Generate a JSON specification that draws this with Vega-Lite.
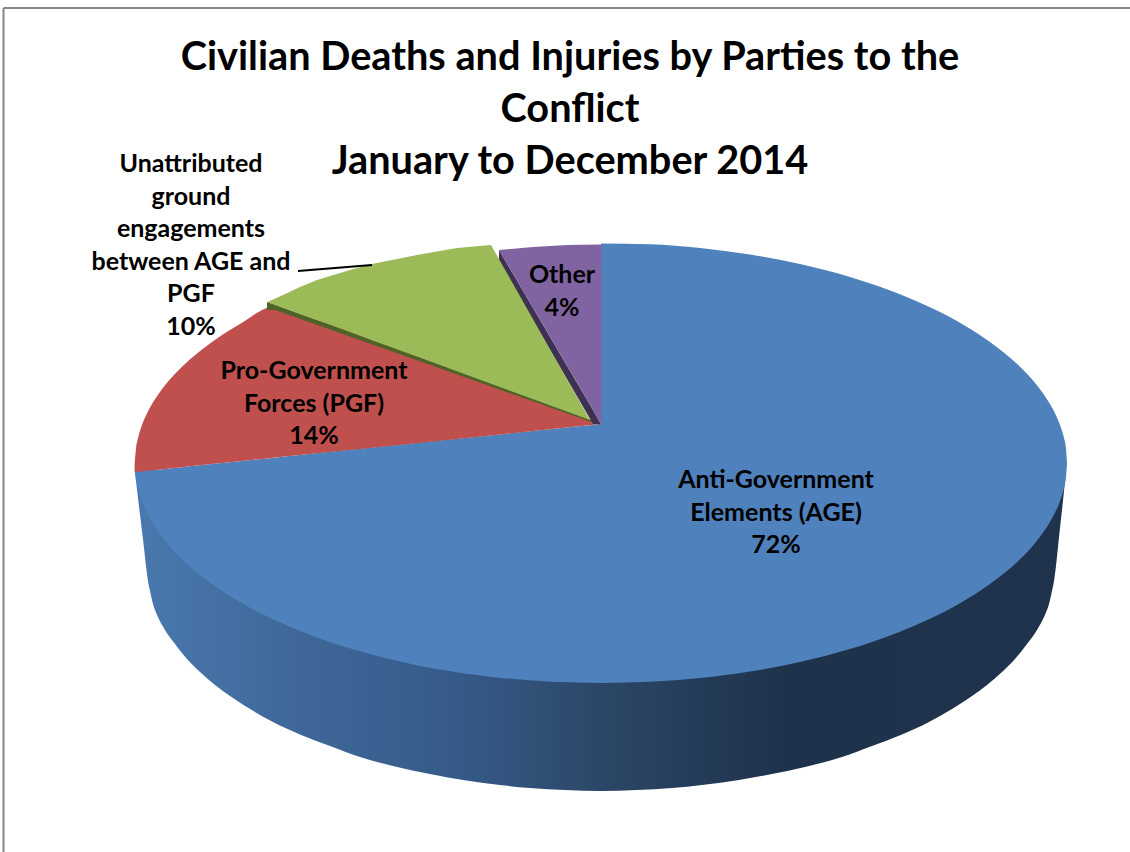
{
"$schema":"https://vega.github.io/schema/vega-lite/v6.json",
"width":1130,"height":852,"padding":0,"autosize":{"type":"none"},"background":"white",
"config":{"view":{"stroke":null}},
"title":{"text":["Civilian Deaths and Injuries by Parties to the","Conflict","January to December 2014"],"font":"Lato","fontWeight":"bold","fontSize":39.7,"lineHeight":52,"color":"#000000","anchor":"middle","frame":"group","orient":"top","offset":0,"baseline":"alphabetic","dx":5,"dy":214},
"datasets":{
"frame":[{"x":3.5,"y":8,"x2":3.5,"y2":852},{"x":3.5,"y":8,"x2":1130,"y2":8}],
"side":[{"x":135,"y":470,"y2":473},{"x":138,"y":470,"y2":498},{"x":141,"y":470,"y2":523},{"x":144,"y":470,"y2":548},{"x":146,"y":470,"y2":566},{"x":148,"y":470,"y2":581},{"x":150,"y":470,"y2":591},{"x":153,"y":470,"y2":604},{"x":158,"y":470,"y2":617},{"x":165,"y":470,"y2":630},{"x":175,"y":470,"y2":644},{"x":187,"y":470,"y2":659},{"x":200,"y":470,"y2":672},{"x":215,"y":470,"y2":685},{"x":230,"y":470,"y2":696},{"x":250,"y":470,"y2":709},{"x":273,"y":470,"y2":722},{"x":300,"y":470,"y2":734.5},{"x":330,"y":470,"y2":746},{"x":360,"y":470,"y2":757},{"x":397,"y":470,"y2":767},{"x":430,"y":470,"y2":774},{"x":463,"y":470,"y2":780},{"x":500,"y":470,"y2":785},{"x":530,"y":470,"y2":788},{"x":565,"y":470,"y2":790},{"x":601,"y":470,"y2":791},{"x":637,"y":470,"y2":790},{"x":672,"y":470,"y2":788},{"x":702,"y":470,"y2":785},{"x":739,"y":470,"y2":780},{"x":772,"y":470,"y2":774},{"x":805,"y":470,"y2":767},{"x":842,"y":470,"y2":757},{"x":872,"y":470,"y2":746},{"x":902,"y":470,"y2":734.5},{"x":929,"y":470,"y2":722},{"x":952,"y":470,"y2":709},{"x":972,"y":470,"y2":696},{"x":987,"y":470,"y2":685},{"x":1002,"y":470,"y2":672},{"x":1015,"y":470,"y2":659},{"x":1027,"y":470,"y2":644},{"x":1037,"y":470,"y2":630},{"x":1044,"y":470,"y2":617},{"x":1049,"y":470,"y2":604},{"x":1052,"y":470,"y2":591},{"x":1054,"y":470,"y2":581},{"x":1056,"y":470,"y2":566},{"x":1058,"y":470,"y2":547},{"x":1060,"y":470,"y2":528},{"x":1062,"y":470,"y2":510},{"x":1064,"y":470,"y2":491},{"x":1066,"y":470,"y2":472}],
"smooth":[
{"part":"AGE left","x":135,"y":472,"y2":473},{"part":"AGE left","x":136,"y":471.9,"y2":477.3},{"part":"AGE left","x":138,"y":471.7,"y2":487.9},{"part":"AGE left","x":141,"y":471.4,"y2":498.2},{"part":"AGE left","x":146,"y":470.9,"y2":510.5},{"part":"AGE left","x":152,"y":470.2,"y2":521.9},{"part":"AGE left","x":160,"y":469.4,"y2":534.1},{"part":"AGE left","x":170,"y":468.4,"y2":546.7},{"part":"AGE left","x":182,"y":467.2,"y2":559.3},{"part":"AGE left","x":197,"y":465.6,"y2":572.6},{"part":"AGE left","x":217,"y":463.6,"y2":587.6},{"part":"AGE left","x":242,"y":461,"y2":603.3},{"part":"AGE left","x":272,"y":457.9,"y2":618.8},{"part":"AGE left","x":302,"y":454.8,"y2":631.7},{"part":"AGE left","x":352,"y":449.6,"y2":649},{"part":"AGE left","x":402,"y":444.5,"y2":661.9},{"part":"AGE left","x":452,"y":439.3,"y2":671.5},{"part":"AGE left","x":502,"y":434.2,"y2":678},{"part":"AGE left","x":552,"y":429.05,"y2":681.8},{"part":"AGE left","x":602,"y":424,"y2":683},
{"part":"AGE right","x":601,"y":243.5,"y2":683},{"part":"AGE right","x":650,"y":244.2,"y2":681.8},{"part":"AGE right","x":700,"y":248,"y2":678},{"part":"AGE right","x":750,"y":254.5,"y2":671.5},{"part":"AGE right","x":800,"y":264.1,"y2":661.9},{"part":"AGE right","x":850,"y":277,"y2":649},{"part":"AGE right","x":900,"y":294.3,"y2":631.7},{"part":"AGE right","x":930,"y":307.2,"y2":618.8},{"part":"AGE right","x":960,"y":322.7,"y2":603.3},{"part":"AGE right","x":985,"y":338.4,"y2":587.6},{"part":"AGE right","x":1005,"y":353.4,"y2":572.6},{"part":"AGE right","x":1020,"y":366.7,"y2":559.3},{"part":"AGE right","x":1032,"y":379.3,"y2":546.7},{"part":"AGE right","x":1042,"y":391.9,"y2":534.1},{"part":"AGE right","x":1050,"y":404.1,"y2":521.9},{"part":"AGE right","x":1056,"y":415.5,"y2":510.5},{"part":"AGE right","x":1061,"y":427.8,"y2":498.2},{"part":"AGE right","x":1064,"y":438.1,"y2":487.9},{"part":"AGE right","x":1066,"y":448.7,"y2":477.3},{"part":"AGE right","x":1067,"y":463,"y2":464},
{"part":"PGF","x":134.6,"y":464,"y2":472.1},{"part":"PGF","x":136,"y":448.7,"y2":471.9},{"part":"PGF","x":138,"y":438.1,"y2":471.7},{"part":"PGF","x":141,"y":427.8,"y2":471.4},{"part":"PGF","x":146,"y":415.5,"y2":470.9},{"part":"PGF","x":152,"y":404.1,"y2":470.2},{"part":"PGF","x":160,"y":391.9,"y2":469.4},{"part":"PGF","x":170,"y":379.3,"y2":468.4},{"part":"PGF","x":182,"y":366.7,"y2":467.2},{"part":"PGF","x":197,"y":353.4,"y2":465.6},{"part":"PGF","x":217,"y":338.4,"y2":463.6},{"part":"PGF","x":242,"y":322.7,"y2":461},{"part":"PGF","x":272,"y":307.2,"y2":457.9},{"part":"PGF","x":275,"y":308,"y2":457.6},{"part":"PGF","x":601,"y":424,"y2":424.1}
],
"sharp":[
{"part":"Unattributed edge","x":267,"y":302,"y2":310},{"part":"Unattributed edge","x":275,"y":304.7,"y2":310},{"part":"Unattributed edge","x":597,"y":422,"y2":424},
{"part":"Other edge","x":499,"y":250,"y2":262},{"part":"Other edge","x":593,"y":410,"y2":424},{"part":"Other edge","x":601,"y":424,"y2":424.5},
{"part":"Unattributed","x":267.5,"y":302,"y2":302},{"part":"Unattributed","x":283,"y":295,"y2":307.7},{"part":"Unattributed","x":300,"y":287,"y2":313.9},{"part":"Unattributed","x":317,"y":280,"y2":320.1},{"part":"Unattributed","x":350,"y":270,"y2":332.1},{"part":"Unattributed","x":372,"y":264,"y2":340.2},{"part":"Unattributed","x":417,"y":255,"y2":356.6},{"part":"Unattributed","x":457,"y":248,"y2":371.3},{"part":"Unattributed","x":491,"y":245,"y2":383.7},{"part":"Unattributed","x":590,"y":420,"y2":420},
{"part":"Other","x":499,"y":250,"y2":250},{"part":"Other","x":533,"y":247,"y2":307.8},{"part":"Other","x":567,"y":245,"y2":365.6},{"part":"Other","x":600,"y":244.6,"y2":422},{"part":"Other","x":601.5,"y":244.5,"y2":424}
],
"leader":[{"x":298,"y":271,"x2":372,"y2":265}],
"labels":[
{"slice":"Anti-Government Elements (AGE)","share":72,"x":776,"y":480,"lines":["Anti-Government","Elements (AGE)","72%"]},
{"slice":"Pro-Government Forces (PGF)","share":14,"x":314,"y":371,"lines":["Pro-Government","Forces (PGF)","14%"]},
{"slice":"Unattributed ground engagements between AGE and PGF","share":10,"x":191,"y":164,"lines":["Unattributed","ground","engagements","between AGE and","PGF","10%"]},
{"slice":"Other","share":4,"x":562,"y":275,"lines":["Other","4%"]}
]
},
"layer":[
{"data":{"name":"frame"},"mark":{"type":"rule","color":"#868686","strokeWidth":2},"encoding":{"x":{"field":"x","type":"quantitative","scale":{"domain":[0,1130],"nice":false,"zero":false},"axis":null},"y":{"field":"y","type":"quantitative","scale":{"domain":[852,0],"nice":false,"zero":false},"axis":null},"x2":{"field":"x2"},"y2":{"field":"y2"}}},
{"data":{"name":"side"},"mark":{"type":"area","interpolate":"monotone","orient":"vertical","color":{"gradient":"linear","x1":0,"y1":0,"x2":1,"y2":0,"stops":[{"offset":0,"color":"#4A79AF"},{"offset":0.17,"color":"#3F6899"},{"offset":0.35,"color":"#355A88"},{"offset":0.5,"color":"#2C4767"},{"offset":0.7,"color":"#1E324B"},{"offset":1,"color":"#1F334C"}]}},"encoding":{"x":{"field":"x","type":"quantitative","scale":{"domain":[0,1130],"nice":false,"zero":false},"axis":null},"y":{"field":"y","type":"quantitative","scale":{"domain":[852,0],"nice":false,"zero":false},"axis":null},"y2":{"field":"y2"}}},
{"data":{"name":"smooth"},"mark":{"type":"area","interpolate":"monotone","orient":"vertical"},"encoding":{"x":{"field":"x","type":"quantitative","scale":{"domain":[0,1130],"nice":false,"zero":false},"axis":null},"y":{"field":"y","type":"quantitative","scale":{"domain":[852,0],"nice":false,"zero":false},"axis":null},"y2":{"field":"y2"},"color":{"field":"part","type":"nominal","legend":null,"scale":{"domain":["AGE left","AGE right","PGF"],"range":["#4F81BD","#4F81BD","#C0504D"]}}}},
{"data":{"name":"sharp"},"mark":{"type":"area","orient":"vertical"},"encoding":{"x":{"field":"x","type":"quantitative","scale":{"domain":[0,1130],"nice":false,"zero":false},"axis":null},"y":{"field":"y","type":"quantitative","scale":{"domain":[852,0],"nice":false,"zero":false},"axis":null},"y2":{"field":"y2"},"fill":{"field":"part","type":"nominal","legend":null,"scale":{"domain":["Unattributed edge","Other edge","Unattributed","Other"],"range":["#4F6228","#3F3151","#9BBB59","#8064A2"]}}}},
{"data":{"name":"leader"},"mark":{"type":"rule","color":"#000000","strokeWidth":2},"encoding":{"x":{"field":"x","type":"quantitative","scale":{"domain":[0,1130],"nice":false,"zero":false},"axis":null},"y":{"field":"y","type":"quantitative","scale":{"domain":[852,0],"nice":false,"zero":false},"axis":null},"x2":{"field":"x2"},"y2":{"field":"y2"}}},
{"data":{"name":"labels"},"mark":{"type":"text","font":"Lato","fontWeight":"bold","fontSize":25,"lineHeight":32.6,"align":"center","baseline":"middle","color":"#000000"},"encoding":{"x":{"field":"x","type":"quantitative","scale":{"domain":[0,1130],"nice":false,"zero":false},"axis":null},"y":{"field":"y","type":"quantitative","scale":{"domain":[852,0],"nice":false,"zero":false},"axis":null},"text":{"field":"lines"}}}
],
"resolve":{"scale":{"color":"independent"}}
}
